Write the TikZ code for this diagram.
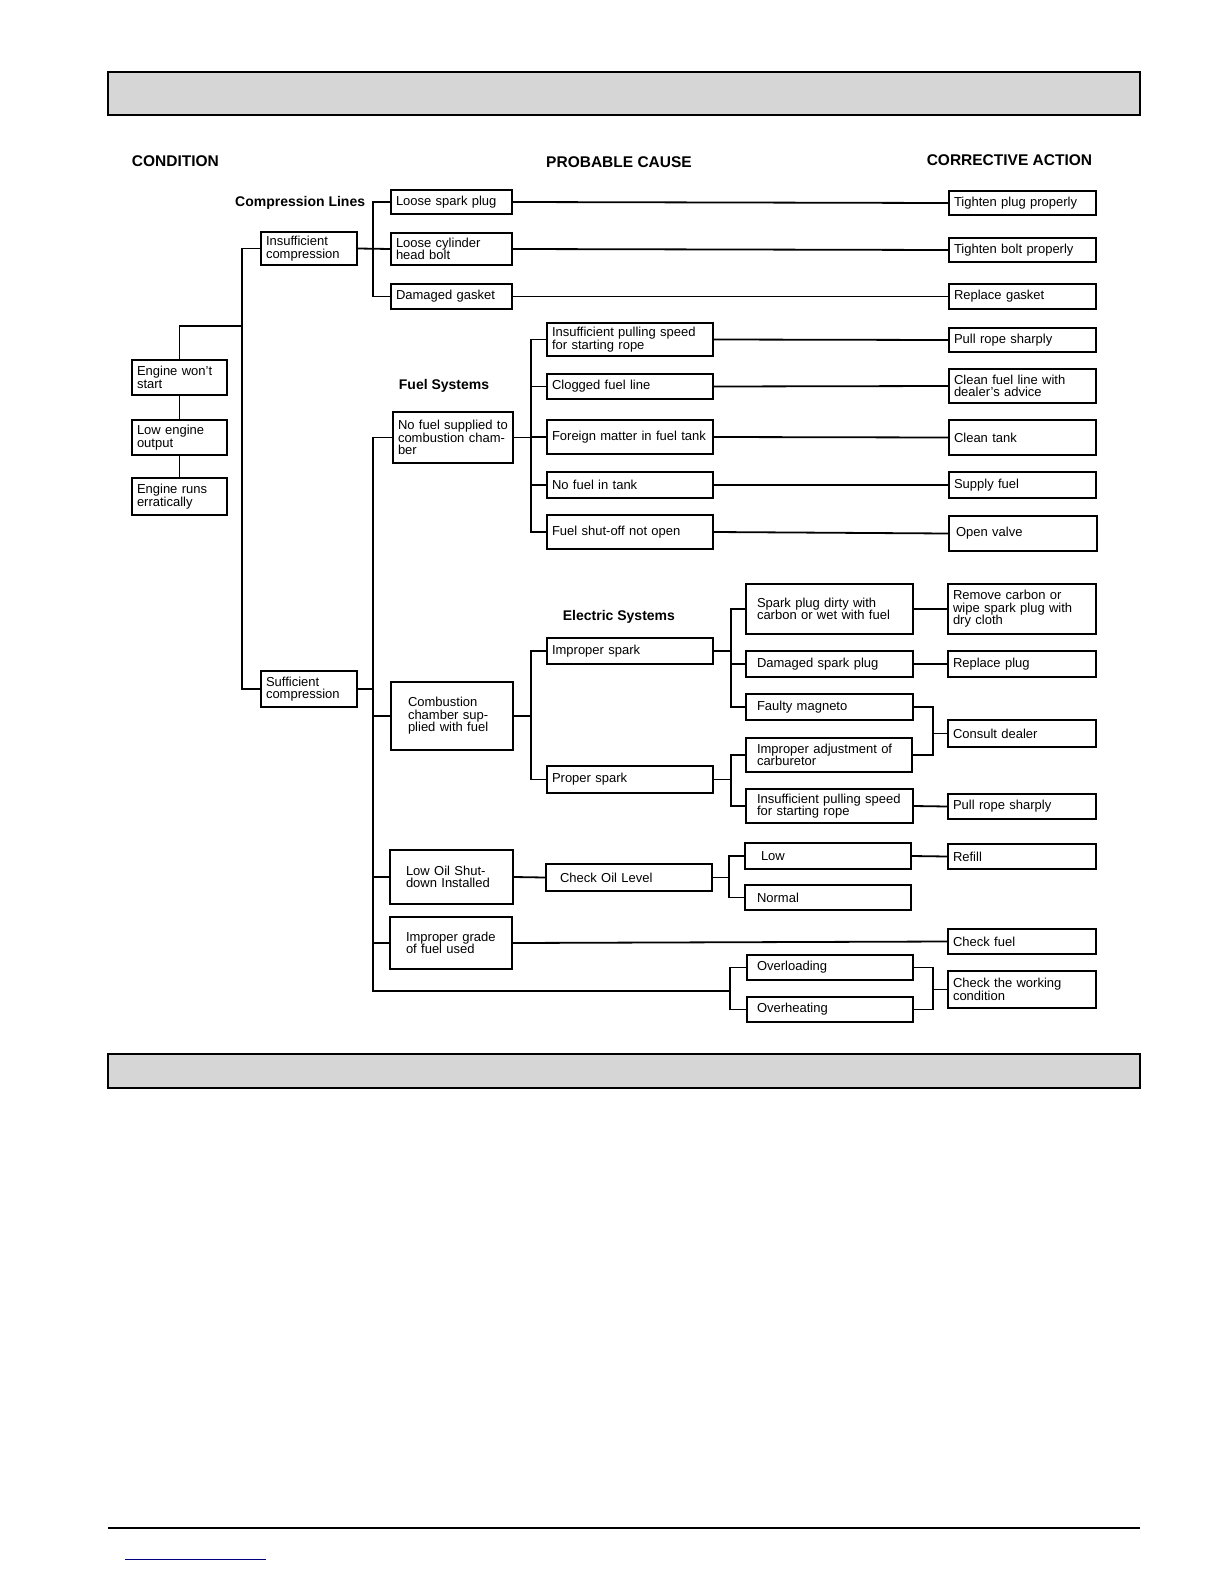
\documentclass[tikz,border=0pt]{standalone}
\usepackage{fontspec}
\setmainfont{Liberation Sans}
\begin{document}
\begin{tikzpicture}[x=1pt,y=-1pt,line width=1.8pt,
  bx/.style={draw,align=left,inner ysep=1pt,font=\fontsize{13}{12.5}\selectfont},
  hd/.style={font=\fontsize{15.5}{16}\selectfont\bfseries,inner sep=0pt},
  sub/.style={font=\fontsize{14}{16}\selectfont\bfseries,inner sep=0pt}]
\newcommand\bx[7][5]{\pgfmathsetmacro\bw{#5-#3}\pgfmathsetmacro\bh{#6-#4}\pgfmathsetmacro\tw{#5-#3-2*#1}%
 \node[bx,inner xsep=#1pt,minimum width=\bw pt,minimum height=\bh pt,text width=\tw pt] (#2) at ({(#3+#5)/2},{(#4+#6)/2}) {#7};}
\useasboundingbox (0,0) rectangle (1224,1584);
\fill[white] (0,0) rectangle (1224,1584);
\draw[fill=black!16] (108,72) rectangle (1140,115);
\draw[fill=black!16] (108,1054) rectangle (1140,1088);
\draw[line width=2pt] (108,1528) -- (1140,1528);
\draw[line width=1pt,blue!50!black] (125,1559) -- (266,1559);
\node[hd,anchor=west] (h1) at (131,161) {CONDITION};
\node[hd] (h2) at (619,162) {PROBABLE CAUSE};
\node[hd,anchor=east] (h3) at (1093,160) {CORRECTIVE ACTION};
\node[sub,anchor=east] (s1) at (366,203) {Compression Lines};
\node[sub,anchor=west] (s2) at (398,386) {Fuel Systems};
\node[sub,anchor=west] (s3) at (562,617) {Electric Systems};
% condition
\bx{ews}{132}{360}{227}{395}{Engine won't start}
\bx{leo}{132}{420}{227}{455}{Low engine output}
\bx{ere}{132}{478}{227}{515}{Engine runs erratically}
\bx{ins}{261}{232}{357}{265}{Insufficient compression}
\bx{suf}{261}{671}{357}{707}{Sufficient compression}
% compression
\bx{lsp}{391}{190}{512}{214}{Loose spark plug}
\bx{lcb}{391}{233}{512}{265}{Loose cylinder head bolt}
\bx{dg}{391}{284}{512}{309}{Damaged gasket}
\bx{tpp}{949}{191}{1096}{215}{Tighten plug properly}
\bx{tbp}{949}{238}{1096}{262}{Tighten bolt properly}
\bx{rg}{949}{284}{1096}{309}{Replace gasket}
% fuel
\bx{nf}{393}{412}{513}{463}{No fuel supplied to combustion chamber}
\bx{f1}{547}{323}{713}{356}{Insufficient pulling speed for starting rope}
\bx{f2}{547}{374}{713}{399}{Clogged fuel line}
\bx{f3}{547}{420}{713}{454}{Foreign matter in fuel tank}
\bx{f4}{547}{472}{713}{498}{No fuel in tank}
\bx{f5}{547}{515}{713}{549}{Fuel shut-off not open}
\bx{a1}{949}{328}{1096}{352}{Pull rope sharply}
\bx{a2}{949}{369}{1096}{403}{Clean fuel line with dealer's advice}
\bx{a3}{949}{420}{1096}{455}{Clean tank}
\bx{a4}{949}{472}{1096}{498}{Supply fuel}
\bx[7]{a5}{949}{516}{1097}{551}{Open valve}
% electric
\bx[17]{cc}{391}{682}{513}{750}{Combustion chamber supplied with fuel}
\bx{ips}{547}{638}{713}{664}{Improper spark}
\bx{ps}{547}{766}{713}{793}{Proper spark}
\bx[11]{e1}{746}{584}{913}{634}{Spark plug dirty with carbon or wet with fuel}
\bx[11]{e2}{746}{651}{913}{677}{Damaged spark plug}
\bx[11]{e3}{746}{694}{913}{720}{Faulty magneto}
\bx[11]{e4}{746}{738}{912}{772}{Improper adjustment of carburetor}
\bx[11]{e5}{746}{789}{913}{823}{Insufficient pulling speed for starting rope}
\bx{b1}{948}{584}{1096}{634}{Remove carbon or wipe spark plug with dry cloth}
\bx{b2}{948}{651}{1096}{677}{Replace plug}
\bx{b3}{948}{720}{1096}{747}{Consult dealer}
\bx{b4}{948}{794}{1096}{819}{Pull rope sharply}
% oil
\bx[16]{lo}{390}{850}{513}{904}{Low Oil Shutdown Installed}
\bx[14]{col}{546}{864}{712}{891}{Check Oil Level}
\bx[16]{low}{745}{843}{911}{869}{Low}
\bx[12]{nor}{745}{885}{911}{910}{Normal}
\bx{ref}{948}{844}{1096}{869}{Refill}
\bx[16]{ig}{390}{917}{512}{969}{Improper grade of fuel used}
\bx{cf}{948}{929}{1096}{954}{Check fuel}
\bx[10]{ovl}{747}{955}{913}{980}{Overloading}
\bx[10]{ovh}{747}{997}{913}{1022}{Overheating}
\bx{cw}{948}{971}{1096}{1008}{Check the working condition}
% connectors: condition
\coordinate (c1) at (243,326);
\draw (ews.north) |- (c1);
\draw (ews) -- (leo); \draw (leo) -- (ere);
\draw (ins.west) -- ++(-18,0) |- (suf.west);
\coordinate (cb) at (373,249);
\draw (ins.east) -- (lcb.west);
\draw (lsp.west) -| (cb) |- (dg.west);
\draw (lsp.east) -- (tpp.west);
\draw (lcb.east) -- (tbp.west);
\draw (dg.east) -- (rg.west);
% sufficient bus
\draw (suf.east) -- ++(15,0) coordinate (sb);
\coordinate (bl) at (730,991);
\draw (nf.west) -| (sb) |- (bl);
\draw (cc.west) -| (sb);
\draw (lo.west) -| (sb);
\draw (ig.west) -| (sb);
\draw (ovl.west) -| (bl) |- (ovh.west);
\draw (ovl.east) -- ++(19,0) |- (cw.west);
\draw (ovh.east) -- ++(19,0) |- (cw.west);
% fuel
\foreach \f in {f1,f2,f3,f4,f5} \draw (nf.east) -- ++(17,0) |- (\f.west);
\draw (f1.east) -- (a1.west);
\draw (f2.east) -- (a2.west);
\draw (f3.east) -- (a3.west);
\draw (f4.east) -- (a4.west);
\draw (f5.east) -- (a5.west);
% electric
\draw (cc.east) -- ++(17,0) |- (ips.west);
\draw (cc.east) -- ++(17,0) |- (ps.west);
\foreach \e in {e1,e2,e3} \draw (ips.east) -- ++(17,0) |- (\e.west);
\foreach \e in {e4,e5} \draw (ps.east) -- ++(17,0) |- (\e.west);
\draw (e1.east) -- (b1.west);
\draw (e2.east) -- (b2.west);
\draw (e3.east) -- ++(19,0) |- (b3.west);
\draw (e4.east) -- ++(20,0) |- (b3.west);
\draw (e5.east) -- (b4.west);
% oil
\draw (lo.east) -- (col.west);
\draw (col.east) -- ++(16,0) |- (low.west);
\draw (col.east) -- ++(16,0) |- (nor.west);
\draw (low.east) -- (ref.west);
\draw (ig.east) -- (cf.west);
\end{tikzpicture}
\end{document}
